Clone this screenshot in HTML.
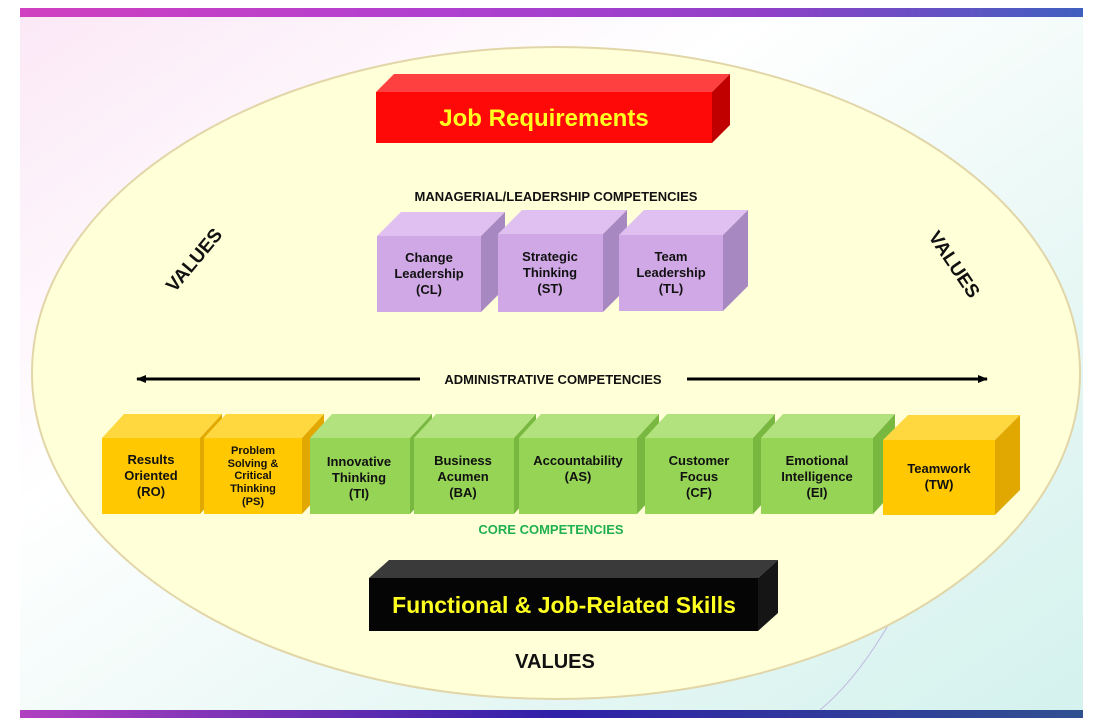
<!DOCTYPE html>
<html><head><meta charset="utf-8"><style>
html,body{margin:0;padding:0;background:#fff;}
svg{display:block;font-family:"Liberation Sans",sans-serif;font-weight:bold;}
</style></head><body>
<svg width="1098" height="726" viewBox="0 0 1098 726" xmlns="http://www.w3.org/2000/svg">
<defs>
<linearGradient id="topbar" x1="0" x2="1"><stop offset="0" stop-color="#d040c0"/><stop offset="0.4" stop-color="#b040d0"/><stop offset="0.7" stop-color="#9040c8"/><stop offset="1" stop-color="#4060c0"/></linearGradient>
<linearGradient id="botbar" x1="0" x2="1"><stop offset="0" stop-color="#b040c0"/><stop offset="0.5" stop-color="#3020a8"/><stop offset="1" stop-color="#305090"/></linearGradient>
<linearGradient id="bg" x1="0" y1="0" x2="1" y2="1"><stop offset="0" stop-color="#fbe8f6"/><stop offset="0.35" stop-color="#ffffff"/><stop offset="0.7" stop-color="#e6f7f4"/><stop offset="1" stop-color="#d4f2ee"/></linearGradient>
<marker id="ah" markerWidth="10" markerHeight="8" refX="9" refY="4" orient="auto" markerUnits="userSpaceOnUse"><path d="M0,0 L10,4 L0,8 z" fill="#000"/></marker>
</defs>
<rect x="20" y="8" width="1063" height="710" fill="url(#bg)"/>
<rect x="20" y="8" width="1063" height="9" fill="url(#topbar)"/>
<rect x="20" y="710" width="1063" height="8" fill="url(#botbar)"/>
<path d="M930,540 Q880,660 820,710" stroke="#c0b8e0" fill="none"/>
<ellipse cx="556" cy="373" rx="524" ry="326" fill="#ffffd8" stroke="#e2d6a8" stroke-width="2"/>

<polygon points="376,92 394,74 730,74 712,92" fill="#ff4040"/>
<polygon points="712,92 730,74 730,125 712,143" fill="#c00000"/>
<rect x="376" y="92" width="336" height="51" fill="#ff0808"/>
<text x="544" y="126" font-size="24" fill="#ffff20" text-anchor="middle">Job Requirements</text>

<text x="556" y="201" font-size="13" fill="#111" text-anchor="middle">MANAGERIAL/LEADERSHIP COMPETENCIES</text>

<g>
<polygon points="377,236 401,212 505,212 481,236" fill="#e0c0f0"/>
<polygon points="481,236 505,212 505,288 481,312" fill="#a888c0"/>
<rect x="377" y="236" width="104" height="76" fill="#d0a8e6"/>
<polygon points="498,234 522,210 627,210 603,234" fill="#e0c0f0"/>
<polygon points="603,234 627,210 627,288 603,312" fill="#a888c0"/>
<rect x="498" y="234" width="105" height="78" fill="#d0a8e6"/>
<polygon points="619,235 644,210 748,210 723,235" fill="#e0c0f0"/>
<polygon points="723,235 748,210 748,286 723,311" fill="#a888c0"/>
<rect x="619" y="235" width="104" height="76" fill="#d0a8e6"/>
</g>
<g font-size="13" fill="#111" text-anchor="middle">
<text x="429" y="262">Change</text><text x="429" y="278">Leadership</text><text x="429" y="294">(CL)</text>
<text x="550" y="261">Strategic</text><text x="550" y="277">Thinking</text><text x="550" y="293">(ST)</text>
<text x="671" y="261">Team</text><text x="671" y="277">Leadership</text><text x="671" y="293">(TL)</text>
</g>

<text transform="translate(199,264) rotate(-50)" font-size="19" fill="#111" text-anchor="middle">VALUES</text>
<text transform="translate(949,268) rotate(56)" font-size="19" fill="#111" text-anchor="middle">VALUES</text>

<line x1="420" y1="379" x2="137" y2="379" stroke="#000" stroke-width="3" marker-end="url(#ah)"/>
<line x1="687" y1="379" x2="987" y2="379" stroke="#000" stroke-width="3" marker-end="url(#ah)"/>
<text x="553" y="384" font-size="13" fill="#111" text-anchor="middle">ADMINISTRATIVE COMPETENCIES</text>

<g>
<polygon points="102,438 124,414 222,414 200,438" fill="#ffd840"/><polygon points="200,438 222,414 222,490 200,514" fill="#e0a800"/><rect x="102" y="438" width="98" height="76" fill="#ffc800"/>
<polygon points="204,438 226,414 324,414 302,438" fill="#ffd840"/><polygon points="302,438 324,414 324,490 302,514" fill="#e0a800"/><rect x="204" y="438" width="98" height="76" fill="#ffc800"/>
<polygon points="310,438 332,414 432,414 410,438" fill="#b2e27e"/><polygon points="410,438 432,414 432,490 410,514" fill="#78b840"/><rect x="310" y="438" width="100" height="76" fill="#96d456"/>
<polygon points="414,438 436,414 536,414 514,438" fill="#b2e27e"/><polygon points="514,438 536,414 536,490 514,514" fill="#78b840"/><rect x="414" y="438" width="100" height="76" fill="#96d456"/>
<polygon points="519,438 541,414 659,414 637,438" fill="#b2e27e"/><polygon points="637,438 659,414 659,490 637,514" fill="#78b840"/><rect x="519" y="438" width="118" height="76" fill="#96d456"/>
<polygon points="645,438 667,414 775,414 753,438" fill="#b2e27e"/><polygon points="753,438 775,414 775,490 753,514" fill="#78b840"/><rect x="645" y="438" width="108" height="76" fill="#96d456"/>
<polygon points="761,438 783,414 895,414 873,438" fill="#b2e27e"/><polygon points="873,438 895,414 895,490 873,514" fill="#78b840"/><rect x="761" y="438" width="112" height="76" fill="#96d456"/>
<polygon points="883,440 908,415 1020,415 995,440" fill="#ffd840"/><polygon points="995,440 1020,415 1020,490 995,515" fill="#e0a800"/><rect x="883" y="440" width="112" height="75" fill="#ffc800"/>
</g>
<g font-size="13" fill="#111" text-anchor="middle">
<text x="151" y="464">Results</text><text x="151" y="480">Oriented</text><text x="151" y="496">(RO)</text>
<g font-size="11"><text x="253" y="454">Problem</text><text x="253" y="467">Solving &amp;</text><text x="253" y="479">Critical</text><text x="253" y="492">Thinking</text><text x="253" y="505">(PS)</text></g>
<text x="359" y="466">Innovative</text><text x="359" y="482">Thinking</text><text x="359" y="498">(TI)</text>
<text x="463" y="465">Business</text><text x="463" y="481">Acumen</text><text x="463" y="497">(BA)</text>
<text x="578" y="465">Accountability</text><text x="578" y="481">(AS)</text>
<text x="699" y="465">Customer</text><text x="699" y="481">Focus</text><text x="699" y="497">(CF)</text>
<text x="817" y="465">Emotional</text><text x="817" y="481">Intelligence</text><text x="817" y="497">(EI)</text>
<text x="939" y="473">Teamwork</text><text x="939" y="489">(TW)</text>
</g>
<text x="551" y="534" font-size="13" fill="#20b050" text-anchor="middle">CORE COMPETENCIES</text>

<polygon points="369,578 389,560 778,560 758,578" fill="#3a3a3a"/>
<polygon points="758,578 778,560 778,613 758,631" fill="#151515"/>
<rect x="369" y="578" width="389" height="53" fill="#050505"/>
<text x="564" y="613" font-size="23" fill="#ffff20" text-anchor="middle">Functional &amp; Job-Related Skills</text>

<text x="555" y="668" font-size="20" fill="#111" text-anchor="middle">VALUES</text>
</svg>
</body></html>
